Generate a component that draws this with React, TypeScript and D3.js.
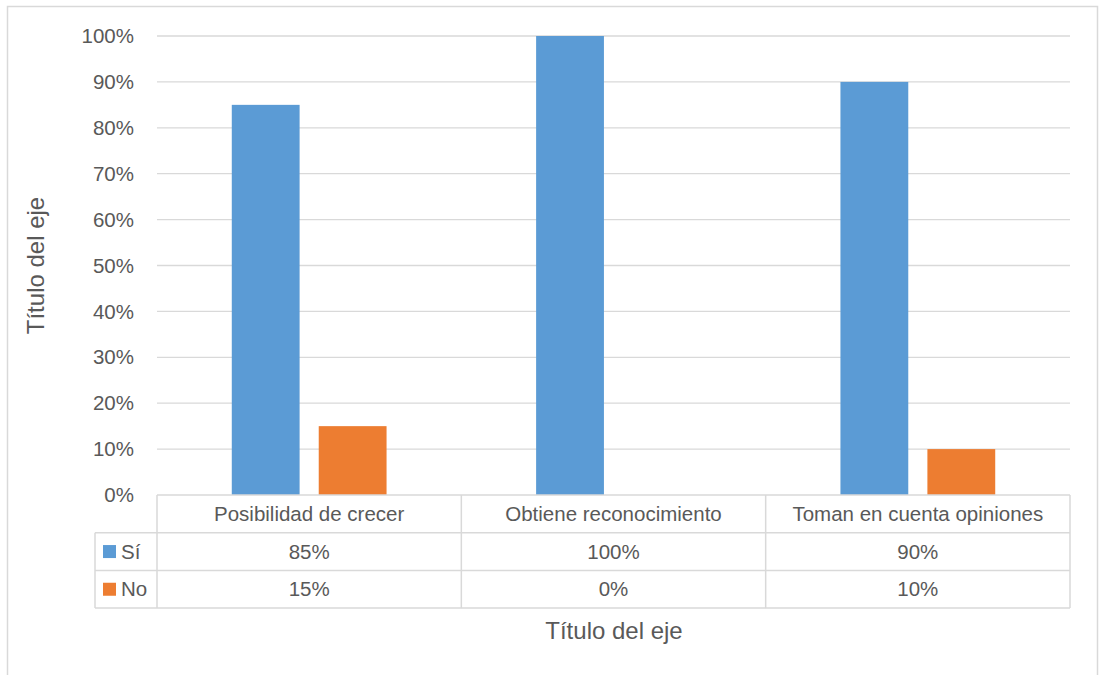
import React from "react";
import * as d3 from "d3";

const categories = ["Posibilidad de crecer", "Obtiene reconocimiento", "Toman en cuenta opiniones"];
const seriesNames = ["Sí", "No"];
const siValues = [0.85, 1.0, 0.9];
const noValues = [0.15, 0, 0.1];
const seriesColors = ["#5B9BD5", "#ED7D31"];
const yTicks = [0, 0.1, 0.2, 0.3, 0.4, 0.5, 0.6, 0.7, 0.8, 0.9, 1.0];
const axisTitle = "Título del eje";

export default function App() {
  const W = 1099, H = 675;
  const left = 157, right = 1070, top = 36, bottom = 495;
  const tableLeft = 95;
  const rowH = 37.7;
  const font = "Liberation Sans, Arial, sans-serif";
  const fs = 20.5;
  const textColor = "#595959";
  const grid = "#d9d9d9";

  const y = d3.scaleLinear().domain([0, 1]).range([bottom, top]);
  const x0 = d3.scaleBand<string>().domain(categories).range([left, right]).paddingInner(0).paddingOuter(0);
  const x1 = d3.scaleBand<string>().domain(seriesNames).range([0, x0.bandwidth()]).paddingInner(0.22).paddingOuter(0.86);
  const series = [siValues, noValues];
  const fmt = d3.format(".0%");

  return (
    <svg width={W} height={H} style={{ position: "absolute", left: 0, top: 0, background: "#fff" }}>
      <rect x={7.5} y={6.5} width={1090} height={700} fill="#fff" stroke={grid} strokeWidth={1.5} />
      {yTicks.map((t) => (
        <g key={t}>
          {t > 0 && <line x1={left} x2={right} y1={y(t)} y2={y(t)} stroke={grid} strokeWidth={1.3} />}
          <text x={134} y={y(t)} dy="0.35em" textAnchor="end" fontFamily={font} fontSize={fs} fill={textColor}>
            {fmt(t)}
          </text>
        </g>
      ))}
      {categories.map((c, i) =>
        series.map((vals, s) => {
          const v = vals[i];
          if (v <= 0) return null;
          return (
            <rect
              key={c + s}
              x={(x0(c) as number) + (x1(seriesNames[s]) as number)}
              y={y(v)}
              width={x1.bandwidth()}
              height={bottom - y(v)}
              fill={seriesColors[s]}
            />
          );
        })
      )}
      {/* data table */}
      <g stroke={grid} strokeWidth={1.5} fill="none">
        <line x1={left} x2={right} y1={bottom} y2={bottom} />
        <line x1={tableLeft} x2={right} y1={bottom + rowH} y2={bottom + rowH} />
        <line x1={tableLeft} x2={right} y1={bottom + 2 * rowH} y2={bottom + 2 * rowH} />
        <line x1={tableLeft} x2={right} y1={bottom + 3 * rowH} y2={bottom + 3 * rowH} />
        <line x1={tableLeft} x2={tableLeft} y1={bottom + rowH} y2={bottom + 3 * rowH} />
        {categories.map((c) => (
          <line key={c} x1={x0(c) as number} x2={x0(c) as number} y1={bottom} y2={bottom + 3 * rowH} />
        ))}
        <line x1={right} x2={right} y1={bottom} y2={bottom + 3 * rowH} />
      </g>
      {categories.map((c) => (
        <text key={c} x={(x0(c) as number) + x0.bandwidth() / 2} y={bottom + rowH / 2} dy="0.35em" textAnchor="middle" fontFamily={font} fontSize={fs} fill={textColor}>
          {c}
        </text>
      ))}
      {series.map((vals, s) => (
        <g key={s}>
          <rect x={103} y={bottom + rowH * (s + 1) + rowH / 2 - 6.5} width={13} height={13} fill={seriesColors[s]} />
          <text x={121} y={bottom + rowH * (s + 1) + rowH / 2} dy="0.35em" fontFamily={font} fontSize={fs} fill={textColor}>
            {seriesNames[s]}
          </text>
          {categories.map((c, i) => (
            <text key={c} x={(x0(c) as number) + x0.bandwidth() / 2} y={bottom + rowH * (s + 1) + rowH / 2} dy="0.35em" textAnchor="middle" fontFamily={font} fontSize={fs} fill={textColor}>
              {fmt(vals[i])}
            </text>
          ))}
        </g>
      ))}
      <text x={614} y={631} dy="0.35em" textAnchor="middle" fontFamily={font} fontSize={24} fill={textColor}>
        {axisTitle}
      </text>
      <text transform={`translate(36,${(top + bottom) / 2}) rotate(-90)`} dy="0.35em" textAnchor="middle" fontFamily={font} fontSize={24} fill={textColor}>
        {axisTitle}
      </text>
    </svg>
  );
}
